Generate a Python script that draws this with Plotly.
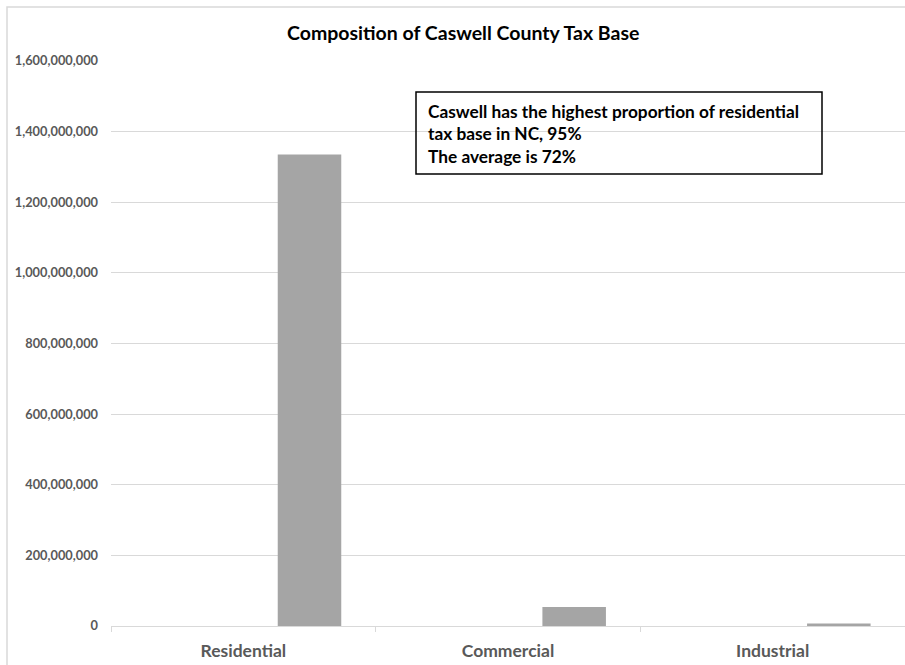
import plotly.graph_objects as go

# Assessed value by property class
categories = ["Residential", "Commercial", "Industrial"]
values = [1335000000, 54000000, 7000000]

title_text = "Composition of Caswell County Tax Base"
note_lines = [
    "Caswell has the highest proportion of residential",
    "tax base in NC, 95%",
    "The average is 72%",
]

W, H = 905, 665
ML, MR, MT, MB = 111, 0, 61, 39
PW, PH = W - ML - MR, H - MT - MB


def px_x(x):
    return (x - ML) / PW


def px_y(y):
    return (H - MB - y) / PH


font = "Lato"
gray_text = "#595959"
grid = "#d9d9d9"

fig = go.Figure()
fig.add_trace(go.Bar(
    x=categories, y=values,
    width=0.24, offset=0.13,
    marker=dict(color="#a5a5a5", line=dict(width=0)),
    hoverinfo="x+y",
))

fig.update_layout(
    width=W, height=H,
    margin=dict(l=ML, r=MR, t=MT, b=MB, autoexpand=False),
    paper_bgcolor="white", plot_bgcolor="white",
    showlegend=False,
    font=dict(family=font, color=gray_text),
    xaxis=dict(
        type="category", range=[-0.5, 2.5],
        showgrid=False, showline=True, linecolor=grid, linewidth=1,
        ticks="outside", tickson="boundaries", ticklen=5, tickcolor=grid,
        tickfont=dict(family=font, size=17.5, color=gray_text, weight="bold"),
        ticklabelstandoff=9,
    ),
    yaxis=dict(
        range=[0, 1600000000], dtick=200000000, tickformat=",.0f",
        showgrid=True, gridcolor=grid, gridwidth=1, zeroline=False,
        showline=False, ticks="", ticklabelstandoff=12,
        tickfont=dict(family=font, size=12.8, color=gray_text, weight="bold"),
    ),
)

# chart-area frame
fig.add_shape(type="rect", xref="paper", yref="paper",
              x0=px_x(7), x1=px_x(915), y0=px_y(680), y1=px_y(7),
              line=dict(color=grid, width=1.5), layer="below")

# title
fig.add_annotation(text="<b>" + title_text + "</b>", xref="paper", yref="paper",
                   x=px_x(463), y=px_y(32), xanchor="center", yanchor="middle",
                   showarrow=False, font=dict(family=font, size=19.5, color="#000000"))

# note box
fig.add_shape(type="rect", xref="paper", yref="paper",
              x0=px_x(416), x1=px_x(822), y0=px_y(174), y1=px_y(92),
              line=dict(color="#000000", width=1.5))
for line, yy in zip(note_lines, [111, 134, 156]):
    fig.add_annotation(text="<b>" + line + "</b>", xref="paper", yref="paper",
                       x=px_x(426), y=px_y(yy), xanchor="left", yanchor="middle",
                       showarrow=False, font=dict(family=font, size=17.3, color="#000000"))

fig.write_html("out.html")
